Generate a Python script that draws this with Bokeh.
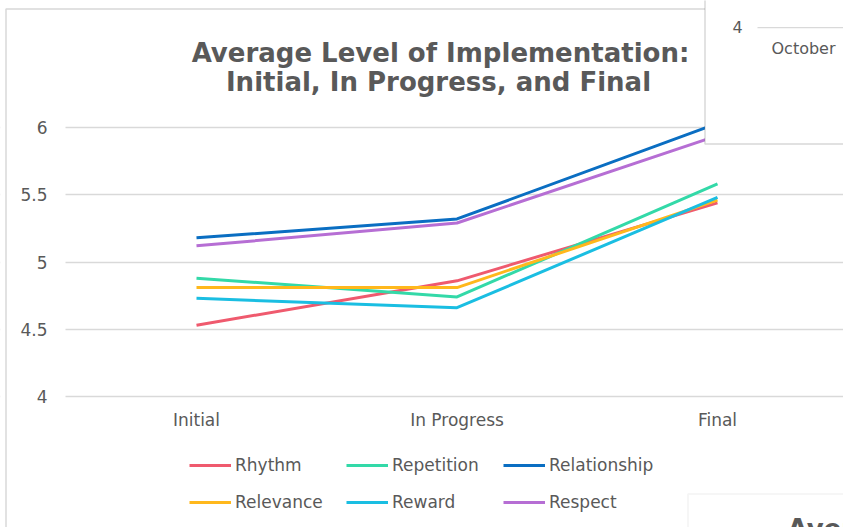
from bokeh.plotting import figure
from bokeh.models import (Range1d, FixedTicker, NumeralTickFormatter, Label,
                          BoxAnnotation, Legend, LegendItem)
from bokeh.embed import file_html
from bokeh.resources import INLINE

categories = ["Initial", "In Progress", "Final"]
rhythm = [4.53, 4.86, 5.44]
repetition = [4.88, 4.74, 5.58]
relationship = [5.18, 5.32, 6.03]
relevance = [4.81, 4.81, 5.46]
reward = [4.73, 4.66, 5.48]
respect = [5.12, 5.29, 5.94]
y_ticks = [4, 4.5, 5, 5.5, 6]

series_names = ["Rhythm", "Repetition", "Relationship", "Relevance", "Reward", "Respect"]
series_values = [rhythm, repetition, relationship, relevance, reward, respect]
series_colors = ["#EF5A6E", "#33D9A8", "#0A6EC2", "#FFB81C", "#1ABEE2", "#B66ED4"]

FONT = "DejaVu Sans"
TXT = "#595959"
W, H = 843, 527

x = list(range(len(categories)))

# pixel layout: category centres 260.5 px apart, first at x=196; y: 6 -> 127 px, 4 -> 396 px
PX_X = 260.5
PX_Y = 134.5
x_range = Range1d(-196 / PX_X, 2 + (W - 717) / PX_X)
y_range = Range1d(4 - (H - 396) / PX_Y, 6 + 127 / PX_Y)

def canvas(**kw):
    return dict(left_units="canvas", right_units="canvas",
                top_units="canvas", bottom_units="canvas", **kw)

p = figure(width=W, height=H, output_backend="svg", toolbar_location=None,
           x_range=x_range, y_range=y_range,
           min_border_left=0, min_border_right=0, min_border_top=0,
           min_border_bottom=0)
p.outline_line_color = None
p.background_fill_color = "white"
p.border_fill_color = "white"

renderers = []
for vals, col in zip(series_values, series_colors):
    r = p.line(x, vals, line_color=col, line_width=3)
    renderers.append(r)

# axes drawn inside the frame
p.xaxis.fixed_location = y_ticks[0]
p.xaxis.ticker = FixedTicker(ticks=x)
p.xaxis.major_label_overrides = {i: c for i, c in zip(x, categories)}
p.xaxis.axis_line_color = None
p.xaxis.major_tick_line_color = None
p.xaxis.minor_tick_line_color = None
p.xaxis.major_tick_out = 0
p.xaxis.major_tick_in = 0
p.xaxis.major_label_standoff = 13
p.xaxis.major_label_text_font = FONT
p.xaxis.major_label_text_font_size = "17px"
p.xaxis.major_label_text_color = TXT

p.yaxis.fixed_location = -(196 - 65) / PX_X
p.yaxis.ticker = FixedTicker(ticks=y_ticks)
p.yaxis.formatter = NumeralTickFormatter(format="0.[0]")
p.yaxis.axis_line_color = None
p.yaxis.major_tick_line_color = None
p.yaxis.minor_tick_line_color = None
p.yaxis.major_tick_out = 0
p.yaxis.major_tick_in = 0
p.yaxis.major_label_standoff = 18
p.yaxis.major_label_text_font = FONT
p.yaxis.major_label_text_font_size = "17px"
p.yaxis.major_label_text_color = TXT

p.xgrid.grid_line_color = None
p.ygrid.grid_line_color = "#d9d9d9"
p.ygrid.grid_line_width = 1.5

# hide gridlines left of the plot area
p.add_layout(BoxAnnotation(**canvas(left=0, right=65, top=0, bottom=H),
                           fill_color="white", fill_alpha=1, line_alpha=0,
                           level="underlay"))

# legend: three columns of two items
for col_idx, lx in enumerate([189, 346, 503]):
    idx = [col_idx, col_idx + 3]
    leg = Legend(items=[LegendItem(label=series_names[i], renderers=[renderers[i]]) for i in idx],
                 location=(lx, 15), orientation="vertical",
                 glyph_width=42, glyph_height=20, label_height=20, label_standoff=4,
                 spacing=17, padding=0, margin=0, border_line_color=None,
                 background_fill_alpha=0,
                 label_text_font=FONT, label_text_font_size="17px",
                 label_text_color=TXT)
    p.add_layout(leg, "center")

# title
p.add_layout(Label(x=440, y=52, x_units="canvas", y_units="canvas",
                   text="Average Level of Implementation:", text_align="center",
                   text_baseline="alphabetic", text_font=FONT, text_font_style="bold",
                   text_font_size="26px", text_color=TXT))
p.add_layout(Label(x=438, y=81, x_units="canvas", y_units="canvas",
                   text="Initial, In Progress, and Final", text_align="center",
                   text_baseline="alphabetic", text_font=FONT, text_font_style="bold",
                   text_font_size="26px", text_color=TXT))

# chart border
p.add_layout(BoxAnnotation(**canvas(left=5.5, right=3000, top=8.5, bottom=3000),
                           fill_alpha=0, line_color="#7f7f7f", line_width=1.5))

# overlapping neighbouring chart (top right)
p.add_layout(BoxAnnotation(**canvas(left=704.5, right=3000, top=-10, bottom=143.5),
                           fill_color="white", fill_alpha=1,
                           line_color="#7f7f7f", line_width=1.5))
p.add_layout(BoxAnnotation(**canvas(left=757, right=3000, top=26.5, bottom=27.7),
                           fill_color="#d9d9d9", fill_alpha=1, line_alpha=0))
p.add_layout(Label(x=737, y=26, x_units="canvas", y_units="canvas", text="4",
                   text_align="center", text_baseline="middle", text_font=FONT,
                   text_font_size="16px", text_color=TXT))
p.add_layout(Label(x=771, y=48, x_units="canvas", y_units="canvas", text="October",
                   text_align="left", text_baseline="middle", text_font=FONT,
                   text_font_size="16px", text_color=TXT))

# overlapping neighbouring chart (bottom right)
p.add_layout(BoxAnnotation(**canvas(left=687.5, right=3000, top=493.5, bottom=3000),
                           fill_color="white", fill_alpha=1,
                           line_color="#d9d9d9", line_width=1.5))
p.add_layout(Label(x=787, y=513, x_units="canvas", y_units="canvas",
                   text="Average Level of Implementation:", text_align="left",
                   text_baseline="top", text_font=FONT, text_font_style="bold",
                   text_font_size="26px", text_color=TXT))

open("out.html", "w").write(file_html(p, INLINE))
